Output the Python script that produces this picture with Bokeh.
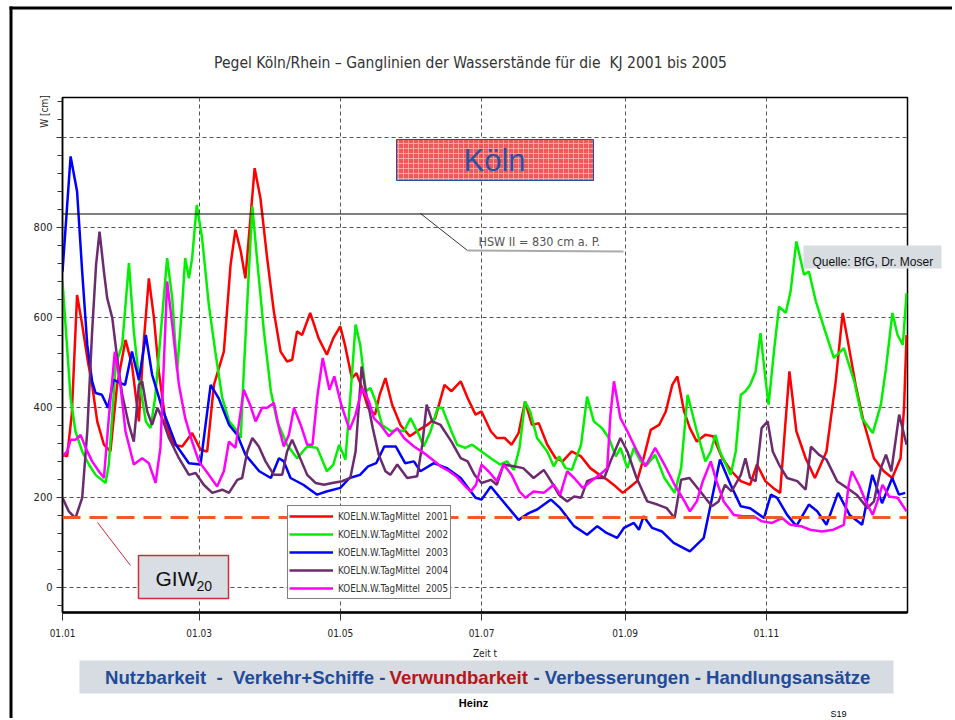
import math
from bokeh.plotting import figure
from bokeh.models import (Range1d, FixedTicker, Label, Legend, LegendItem, Span)
from bokeh.embed import file_html
from bokeh.resources import INLINE
from bokeh.core.properties import value

# ------------------------------------------------------------------ data
x_ticks = [0, 59, 120, 181, 243, 304]
x_tick_labels = ["01.01", "01.03", "01.05", "01.07", "01.09", "01.11"]
y_ticks = [0, 200, 400, 600, 800, 1000]
y_minor_ticks = list(range(-40, 1081, 40))

series_names = ["KOELN.W.TagMittel  2001", "KOELN.W.TagMittel  2002",
                "KOELN.W.TagMittel  2003", "KOELN.W.TagMittel  2004",
                "KOELN.W.TagMittel  2005"]
series_colors = ["#ff0000", "#00f000", "#0000ff", "#6b2b6e", "#ff00ff"]

hsw_level = 830
giw_level = 155

# (day of year, water level in cm)
kj2001 = [(0,295),(2,291),(4,384),(6.3,650),(8.5,584),(10.7,510),(12.8,450),(15,369),
          (17.9,317),(20.7,302),(23.6,450),(27.2,550),(30,495),(33,369),(35,539),(37.3,687),
          (39.5,599),(41.6,480),(44.5,369),(48,317),(51.7,313),(56,343),(59.6,306),(62.5,302),
          (65.4,450),(69.7,524),(72.6,717),(74.7,795),(77,747),(79,687),(83,932),(85.5,865),
          (88.4,732),(91.3,613),(94.2,524),(97,502),(99.2,506),(101.3,569),(103.5,561),(107,610),
          (110.6,554),(114.2,517),(117,554),(120,580),(122,539),(125,465),(127,476),(129.4,443),
          (132,399),(135,384),(137,428),(139.5,465),(142.4,406),(146,361),(150,336),(154,350),
          (157.5,361),(161,376),(165,450),(168,436),(172,458),(175,421),(178.4,384),(181,391),
          (185,347),(187.6,332),(191,332),(194,317),(197,343),(199.8,413),(202.8,361),(205.7,365),
          (209.4,317),(213,287),(216,280),(220,302),(224,291),(228,265),(232,250),(235.3,239),
          (239,224),(242,210),(245.4,224),(248.2,236),(251,287),(254.1,350),(257.7,361),(260.6,391),
          (263.4,450),(265.6,469),(268.5,391),(271,354),(274,324),(277.7,339),(281,336),(285,287),
          (289,258),(293,236),(297,228),(300,273),(303.6,236),(307,221),(310,210),(312,347),
          (314,480),(317,347),(321,287),(325,243),(330,302),(334,458),(337,610),(339,554),
          (342.6,450),(346,369),(350.5,287),(354.8,258),(358.4,243),(362,287),(363.5,399),(364.6,561)]

kj2002 = [(0,680),(1.3,584),(3.5,421),(5.6,347),(8.5,302),(11.4,273),(14.3,250),(18.6,232),
          (20,273),(23,495),(25.8,539),(28.7,721),(30.8,569),(33,465),(36,369),(38,354),(40,421),
          (43,599),(45.2,732),(47.4,643),(49.5,480),(51.7,628),(53,732),(54.6,687),(56,732),
          (58,850),(60.3,776),(63.2,628),(66,524),(69,421),(72,369),(75.5,347),(77,332),(78.3,480),
          (80.5,702),(82,847),(84,732),(87,569),(90,436),(92.7,369),(97,317),(101.3,287),
          (105.7,313),(110,310),(114.2,258),(117,273),(119.5,317),(122.2,284),(124.3,421),
          (126.6,584),(128.6,539),(131,436),(133,443),(135.3,413),(138,361),(142,347),(144.6,350),
          (147.5,347),(150.3,376),(154,339),(156,313),(159,347),(162,399),(164,399),(168,347),
          (170.5,317),(174,310),(177,317),(181,302),(185,287),(189,273),(192,280),(195,261),
          (197.4,310),(199.8,413),(202,391),(205,332),(209.4,302),(212.2,269),(214.5,291),
          (217.3,265),(220,261),(224,317),(226.6,424),(229.5,369),(233,354),(236,332),(239,291),
          (241,310),(244,265),(246.8,310),(249.7,280),(252.6,273),(256,295),(260,243),(264.4,210),
          (267.2,265),(270,428),(274,347),(277.7,280),(280,302),(282,339),(284,302),(288.6,250),
          (290.8,302),(293,428),(295,436),(297,450),(299.4,480),(301.5,565),(303.6,465),(305,406),
          (307.3,524),(309.5,624),(312.4,610),(314.5,658),(317,769),(320.3,695),(322.4,702),
          (325.4,636),(329,576),(333.2,510),(337.5,532),(342,458),(345.4,376),(350,343),
          (353.5,406),(355.7,487),(358.5,610),(360.7,561),(363,539),(364.6,654)]

kj2003 = [(0,702),(3.5,958),(6.3,880),(8.5,702),(10.7,539),(12.8,458),(14.3,432),(17,428),
          (19.7,399),(22,461),(27,450),(30,524),(33,461),(36,561),(38.7,473),(43,399),(49,317),
          (54.6,276),(59.6,273),(64,450),(67.5,420),(72,361),(75.5,339),(79,295),(85,258),(90,243),
          (93.5,287),(95.6,280),(98.5,243),(104,228),(110,206),(114,213),(120,221),(124,243),
          (128.5,250),(132,269),(135.5,276),(139,313),(144,313),(148,276),(151.8,280),(154.6,258),
          (160.4,276),(166,265),(172,243),(178.4,199),(181,195),(185,224),(189,199),(197,150),
          (201.4,165),(205,173),(211,195),(215,176),(221,136),(226.6,117),(231,136),(235,121),
          (239.6,110),(242.5,132),(246.8,143),(249,128),(251,158),(254.7,132),(259,124),(264,99),
          (271,80),(277,110),(280,184),(284,284),(288.6,228),(293,180),(297,176),(303,154),
          (306,206),(308.7,199),(313,161),(317,136),(322.4,184),(326,169),(330,139),(335,210),
          (340,161),(345.4,139),(349.8,250),(354,187),(358.4,243),(361.3,206),(364,210)]

kj2004 = [(0,199),(2.7,169),(5.6,154),(8.5,199),(10.7,347),(12.8,569),(14.5,717),(16,791),
          (17.9,702),(19.3,643),(21.5,599),(23.6,510),(25.8,428),(28.7,361),(30.8,324),(33,450),
          (34.4,458),(36.6,391),(38.7,361),(41,399),(43,376),(46,332),(50.3,287),(54.6,250),
          (57.5,254),(61,228),(64.7,210),(69,217),(71.9,210),(75.5,239),(77.6,243),(79.8,302),
          (82,332),(84.8,313),(87.7,280),(91.3,250),(94.9,250),(97,302),(99.2,328),(102,295),
          (105.7,250),(109.3,232),(113,228),(116.5,232),(120.8,236),(124.3,243),(126.6,302),
          (129.2,491),(131,436),(134,354),(136.6,295),(139.5,258),(141.6,250),(144.6,273),
          (148.9,243),(153.2,247),(155.4,317),(157.3,406),(159.7,369),(163.3,361),(168,324),
          (172,287),(175,280),(178,250),(181,232),(185,239),(187.6,228),(190.5,273),(195,269),
          (199,265),(203.5,243),(207.9,261),(211,236),(214.4,206),(218,191),(221,202),(224,199),
          (226.6,236),(230.3,243),(234,243),(236.7,280),(241,332),(244,302),(248,243),(252.6,191),
          (257,184),(261,176),(264.4,154),(267.2,239),(270.8,243),(275.5,213),(280.5,180),
          (283.4,191),(286.2,228),(289,213),(293,250),(295,287),(297,243),(299.4,236),(302,354),
          (304.6,369),(306.8,302),(309.5,273),(313,243),(317.4,236),(321,217),(323.3,313),
          (326.7,295),(330,284),(334.6,236),(338.9,221),(343,206),(347.7,176),(350.5,191),
          (353.5,265),(355.7,295),(358,258),(359.6,317),(361.4,384),(364.6,317)]

kj2005 = [(0,291),(2,302),(3.5,328),(5.6,328),(7.8,339),(10,310),(12.8,280),(15.7,258),
          (17.9,243),(20,376),(22.6,524),(25,450),(27.2,347),(30.8,273),(34.4,287),(37.3,276),
          (40.2,232),(42.3,310),(45.2,680),(47.4,584),(50.3,450),(53,376),(56,324),(58.9,280),
          (63.2,250),(66.8,224),(69.7,258),(71.9,324),(74.7,310),(78.3,439),(81,406),(83.4,369),
          (86.2,399),(88.4,399),(91.3,410),(93.5,354),(95.6,313),(97.8,339),(100,399),(102.9,361),
          (105.7,317),(108,317),(110,421),(112.4,510),(115.3,439),(117.4,469),(120.4,406),
          (124,350),(126.6,384),(129.4,443),(132.4,413),(134.5,376),(137.4,361),(141,336),
          (144.6,354),(147.5,332),(151.8,313),(156,299),(159.7,284),(163.3,269),(167,258),
          (170,247),(173.4,228),(176.3,213),(178.6,228),(181,273),(184,258),(187.6,236),
          (190.5,273),(194,250),(197.4,213),(200,199),(203.5,213),(207.9,210),(212.2,228),
          (215,206),(218,258),(221,243),(224.7,221),(228.3,236),(232,250),(235.3,265),(236.7,384),
          (238.2,458),(241,376),(244,347),(248.2,302),(251.8,269),(256,310),(260,273),(264.4,228),
          (268.7,191),(271,169),(274,191),(276.6,236),(280,280),(282.5,236),(285.6,191),(290,161),
          (294,158),(298.6,158),(302,147),(306.5,143),(310.8,154),(314.4,139),(319,136),(323,128),
          (328,124),(333,128),(337.5,139),(339.6,228),(341,258),(344,228),(347,191),(350,161),
          (352,191),(354.2,228),(357,202),(360.7,199),(364.6,169)]

series = [kj2001, kj2002, kj2003, kj2004, kj2005]

# ------------------------------------------------------------------ layout helpers
W, H = 952, 718
X_MIN, X_MAX, Y_MIN, Y_MAX = 0, 365, -56, 1089
FR_L, FR_R, FR_T, FR_B = 62, 907, 97, 612  # frame position on the page


def X(px):
    return X_MIN + (px - FR_L) * (X_MAX - X_MIN) / (FR_R - FR_L)


def Y(py):
    return Y_MAX - (py - FR_T) * (Y_MAX - Y_MIN) / (FR_B - FR_T)


COND = "DejaVu Sans Condensed"
ARIAL = "Liberation Sans"
NB = "\u00a0"

# ------------------------------------------------------------------ chart
p = figure(width=W, height=H, x_range=Range1d(X_MIN, X_MAX),
           y_range=Range1d(Y_MIN, Y_MAX), output_backend="svg",
           toolbar_location=None, min_border_left=FR_L,
           min_border_right=W - FR_R, min_border_top=FR_T,
           min_border_bottom=H - FR_B,
           background_fill_color="white", border_fill_color="white")

p.outline_line_color = "black"
p.outline_line_width = 1.5

xa = p.xaxis[0]
xa.ticker = FixedTicker(ticks=x_ticks, minor_ticks=[])
xa.major_label_overrides = {t: l for t, l in zip(x_ticks, x_tick_labels)}
xa.axis_line_width = 2.5
xa.axis_line_color = "black"
xa.major_tick_out = 8
xa.major_tick_in = 0
xa.major_tick_line_color = "#333333"
xa.major_label_standoff = 8
xa.major_label_text_font = COND
xa.major_label_text_font_size = "10px"
xa.major_label_text_color = "#222222"
xa.axis_label = "Zeit t"
xa.axis_label_standoff = 8
xa.axis_label_text_font = COND
xa.axis_label_text_font_size = "10px"
xa.axis_label_text_font_style = "normal"
xa.axis_label_text_color = "#222222"

ya = p.yaxis[0]
ya.ticker = FixedTicker(ticks=y_ticks, minor_ticks=y_minor_ticks)
ya.major_label_overrides = {1000: ""}
ya.axis_line_width = 1.5
ya.axis_line_color = "black"
ya.major_tick_out = 6
ya.major_tick_in = 0
ya.minor_tick_out = 5
ya.minor_tick_in = 0
ya.major_tick_line_color = "#333333"
ya.minor_tick_line_color = "#333333"
ya.major_label_standoff = 4
ya.major_label_text_font = COND
ya.major_label_text_font_size = "11px"
ya.major_label_text_color = "#222222"

p.grid.grid_line_color = "#555555"
p.grid.grid_line_dash = "4 3"
p.grid.grid_line_width = 1

# Köln box
p.quad(left=X(396), right=X(593), top=Y(139), bottom=Y(180),
       fill_color="#ee3c3c", fill_alpha=0.85, hatch_pattern="+",
       hatch_color="#ffb4b4", hatch_alpha=0.8, hatch_scale=5, hatch_weight=1,
       line_color="#2b4f9f", line_width=1)
p.add_layout(Label(x=X(494), y=Y(160), text="Köln", text_align="center",
                   text_baseline="middle", text_font=ARIAL,
                   text_font_size="31px", text_color="#2a52a0"))

# HSW line + label
p.add_layout(Span(location=hsw_level, dimension="width", line_color="black",
                  line_width=1))
p.line([X(420), X(467)], [Y(213), Y(250)], line_color="#333333", line_width=1)
p.line([X(467), X(623)], [Y(250), Y(251)], line_color="#aaaaaa", line_width=2)
p.add_layout(Label(x=X(478), y=Y(241), text="HSW II = 830 cm a. P.",
                   text_baseline="middle", text_font=COND,
                   text_font_size="12.5px", text_color="#555555"))

# series
renderers = []
for data, color in zip(series, series_colors):
    xs = [d for d, _ in data]
    ys = [v for _, v in data]
    renderers.append(p.line(xs, ys, line_color=color, line_width=2.5))

legend = Legend(items=[LegendItem(label=n, renderers=[r])
                       for n, r in zip(series_names, renderers)],
                location=(287 - FR_L, FR_B - 599), orientation="vertical",
                padding=1, spacing=0, margin=0, label_height=18,
                glyph_height=18, glyph_width=44, label_standoff=5,
                label_width=111, label_text_font=COND,
                label_text_font_size="9.8px", label_text_color="#333333",
                border_line_color="black", border_line_width=1,
                background_fill_color="white", background_fill_alpha=1)
p.add_layout(legend)

# GIW line, leader and box
p.add_layout(Span(location=giw_level, dimension="width", line_color="#f05a28",
                  line_width=3, line_dash="18 9", level="overlay"))
p.line([X(97), X(130)], [Y(522), Y(565)], line_color="#d42a3c", line_width=1)
p.quad(left=X(138), right=X(228), top=Y(555), bottom=Y(598),
       fill_color="#d8dee3", line_color="#d42a3c", line_width=1.5)
p.add_layout(Label(x=X(155), y=Y(578), text="GIW", text_font=ARIAL,
                   text_font_size="21px", text_color="#111111",
                   text_baseline="middle"))
p.add_layout(Label(x=X(196), y=Y(585), text="20", text_font=ARIAL,
                   text_font_size="14px", text_color="#111111",
                   text_baseline="middle"))

# ------------------------------------------------------------------ slide overlay
# a transparent, axis-less figure in page pixels, laid over the chart
bg = figure(width=W, height=H, x_range=Range1d(0, W), y_range=Range1d(H, 0),
            output_backend="svg", toolbar_location=None, min_border=0,
            x_axis_location=None, y_axis_location=None,
            background_fill_alpha=0, border_fill_alpha=0)
bg.grid.visible = False
bg.outline_line_color = None
bg.styles = {"position": "absolute", "left": "0px", "top": "0px"}

# slide frame (top and left edge)
bg.quad(left=[9, 9], right=[W, 12], top=[6, 6], bottom=[9, H],
        fill_color="black", line_color=None)

bg.text(x=[470], y=[62],
        text=[f"Pegel Köln/Rhein – Ganglinien der Wasserstände für die {NB}KJ 2001 bis 2005"],
        text_align="center", text_baseline="middle", text_font=value(COND),
        text_font_size="15.5px", text_color="#333333")
bg.text(x=[44], y=[111], text=["W [cm]"], angle=math.pi / 2,
        text_align="center", text_baseline="middle", text_font=value(COND),
        text_font_size="10px", text_color="#222222")

# source box
bg.quad(left=803, right=941, top=245, bottom=268, fill_color="#d8dde1",
        line_color=None)
bg.text(x=[812], y=[261], text=["Quelle: BfG, Dr. Moser"],
        text_baseline="middle", text_font=value(ARIAL),
        text_font_size="12px", text_color="#111111")

# banner
bg.quad(left=79, right=893, top=660, bottom=693, fill_color="#d6dce1",
        line_color=None)
bg.text(x=[385], y=[677], text=[f"Nutzbarkeit {NB}-{NB} Verkehr+Schiffe -"],
        text_align="right", text_baseline="middle", text_font=value(ARIAL),
        text_font_size="18.6px", text_font_style="bold", text_color="#1f4b99")
bg.text(x=[389], y=[677], text=["Verwundbarkeit"],
        text_align="left", text_baseline="middle", text_font=value(ARIAL),
        text_font_size="18.6px", text_font_style="bold", text_color="#b5161b")
bg.text(x=[533], y=[677], text=["- Verbesserungen - Handlungsansätze"],
        text_align="left", text_baseline="middle", text_font=value(ARIAL),
        text_font_size="18.6px", text_font_style="bold", text_color="#1f4b99")
bg.text(x=[473], y=[702], text=["Heinz"], text_align="center",
        text_baseline="middle", text_font=value(ARIAL), text_font_size="11px",
        text_font_style="bold", text_color="black")
bg.text(x=[838], y=[713], text=["S19"], text_align="center",
        text_baseline="middle", text_font=value(ARIAL), text_font_size="9px",
        text_color="black")

open("out.html", "w").write(file_html([p, bg], INLINE))
